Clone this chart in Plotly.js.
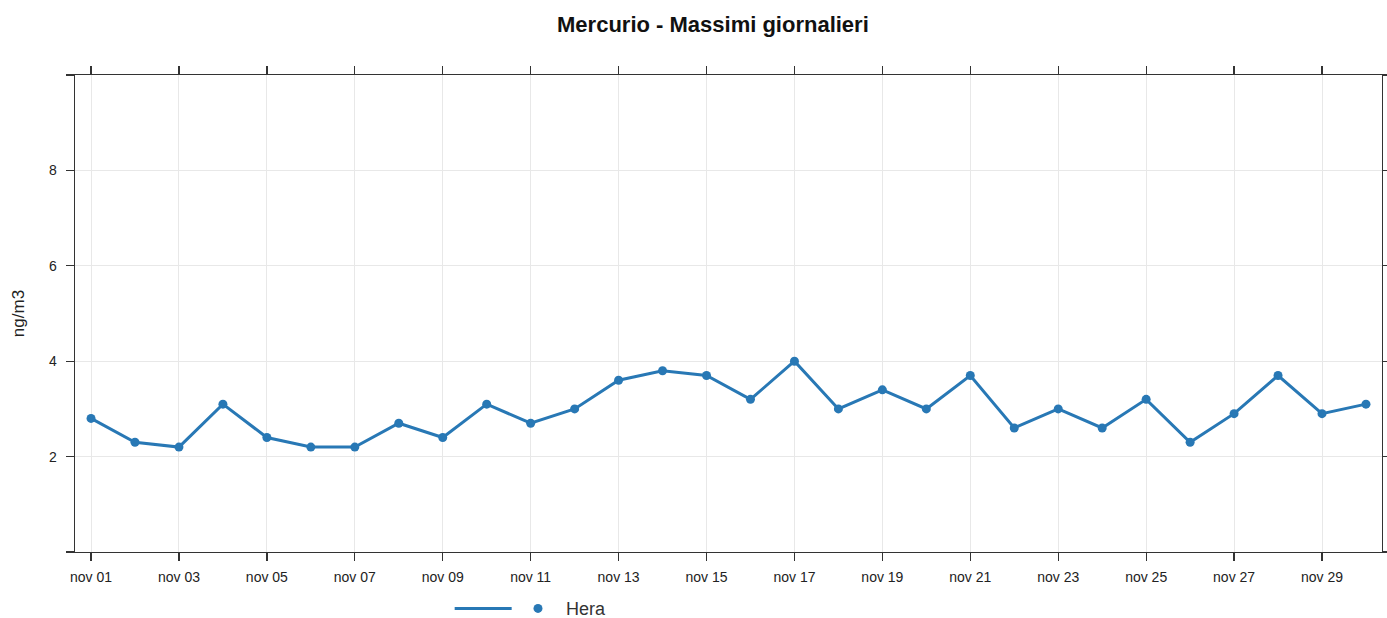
<!DOCTYPE html>
<html>
<head>
<meta charset="utf-8">
<script src="https://cdn.plot.ly/plotly-3.0.1.min.js"></script>
<style>html,body{margin:0;padding:0;background:#fff}#chart{width:1387px;height:618px}</style>
</head>
<body>
<div id="chart"></div>
<script>
const dates = ["2023-11-01","2023-11-02","2023-11-03","2023-11-04","2023-11-05","2023-11-06","2023-11-07","2023-11-08","2023-11-09","2023-11-10","2023-11-11","2023-11-12","2023-11-13","2023-11-14","2023-11-15","2023-11-16","2023-11-17","2023-11-18","2023-11-19","2023-11-20","2023-11-21","2023-11-22","2023-11-23","2023-11-24","2023-11-25","2023-11-26","2023-11-27","2023-11-28","2023-11-29","2023-11-30"];
const hera = [2.8,2.3,2.2,3.1,2.4,2.2,2.2,2.7,2.4,3.1,2.7,3.0,3.6,3.8,3.7,3.2,4.0,3.0,3.4,3.0,3.7,2.6,3.0,2.6,3.2,2.3,2.9,3.7,2.9,3.1];
const xTickVals = ["2023-11-01","2023-11-03","2023-11-05","2023-11-07","2023-11-09","2023-11-11","2023-11-13","2023-11-15","2023-11-17","2023-11-19","2023-11-21","2023-11-23","2023-11-25","2023-11-27","2023-11-29"];
const xTickText = ["nov 01","nov 03","nov 05","nov 07","nov 09","nov 11","nov 13","nov 15","nov 17","nov 19","nov 21","nov 23","nov 25","nov 27","nov 29"];
const yTickVals = [0,2,4,6,8,10];
const yTickText = ["","2","4","6","8",""];
const seriesName = "Hera";
const color = "#2878b5";
const FONT = "Liberation Sans, Arial, sans-serif";

const traces = [
  {x: dates, y: hera, type: "scatter", mode: "lines", name: " ", legend: "legend",
   line: {color: color, width: 3}, showlegend: true, hoverinfo: "skip"},
  {x: dates, y: hera, type: "scatter", mode: "markers", name: seriesName, legend: "legend2",
   marker: {color: color, size: 9}, showlegend: true}
];

const axisCommon = {
  showline: true, linecolor: "#333", linewidth: 1.3, mirror: "ticks",
  ticks: "outside", ticklen: 8, tickwidth: 1.3, tickcolor: "#333",
  showgrid: true, gridcolor: "#e8e8e8", gridwidth: 1, zeroline: false,
  tickfont: {family: FONT, size: 14, color: "#222"}
};

const layout = {
  width: 1387, height: 618,
  paper_bgcolor: "#fff", plot_bgcolor: "#fff",
  margin: {l: 75, r: 5, t: 75, b: 66},
  title: {text: "<b>Mercurio - Massimi giornalieri</b>", xref: "container", x: 0.514, xanchor: "center",
          yref: "container", y: 0.961, yanchor: "middle",
          font: {family: FONT, size: 22, color: "#111"}},
  xaxis: Object.assign({}, axisCommon, {
    type: "date", range: ["2023-10-31 15:15", "2023-11-30 08:45"],
    tickmode: "array", tickvals: xTickVals, ticktext: xTickText, ticklabelstandoff: 4
  }),
  yaxis: Object.assign({}, axisCommon, {
    range: [0, 10], tickmode: "array", tickvals: yTickVals, ticktext: yTickText, ticklabelstandoff: 6,
    title: {text: "ng/m3", standoff: 20, font: {family: FONT, size: 17, color: "#222"}}
  }),
  showlegend: true,
  legend: {orientation: "h", xref: "container", yref: "container", x: 0.3242, xanchor: "left", y: 0.015, yanchor: "middle",
           font: {family: FONT, size: 18, color: "#333"}, itemwidth: 57, bgcolor: "rgba(0,0,0,0)"},
  legend2: {orientation: "h", xref: "container", yref: "container", x: 0.3677, xanchor: "left", y: 0.015, yanchor: "middle",
           font: {family: FONT, size: 18, color: "#333"}, itemwidth: 46, bgcolor: "rgba(0,0,0,0)"}
};

Plotly.newPlot("chart", traces, layout, {displayModeBar: false, staticPlot: true});
</script>
</body>
</html>
